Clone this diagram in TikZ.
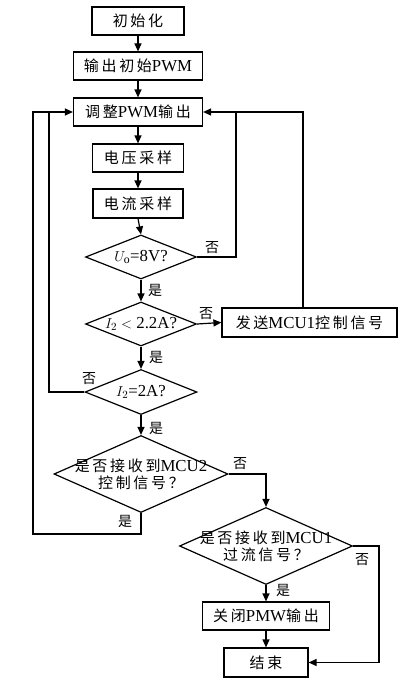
\documentclass[tikz,border=0pt]{standalone}
\usepackage{fontspec}
\setmainfont{Liberation Serif}[Scale=1.12]
\newfontfamily\cjk[LetterSpace=18]{Noto Sans CJK SC}
\usetikzlibrary{shapes.geometric,arrows.meta}
\tikzset{
  blk/.style={draw, line width=1.2pt, minimum height=28pt, inner sep=0pt},
  dec/.style={draw, diamond, line width=1.2pt, inner sep=0pt},
  yn/.style={font=\cjk\fontsize{14}{15}\selectfont, inner sep=0pt},
  flow/.style={line width=1.2pt, -{Triangle[length=8pt,width=7pt]}},
  link/.style={line width=1.2pt}
}
\begin{document}
\begin{tikzpicture}[x=1pt,y=-1pt,font=\cjk\fontsize{15}{17}\selectfont]
      \useasboundingbox (0,0) rectangle (410,685);
      % main column
      \node[blk, minimum width=92pt] (init) at (138,21) {初始化};
      \node[blk, minimum width=129pt] (pwm0) at (138,66) {输出初始{\rmfamily PWM}};
      \node[blk, minimum width=129pt] (adj) at (138,112) {调整{\rmfamily PWM}输出};
      \node[blk, minimum width=91pt] (vs) at (138,158) {电压采样};
      \node[blk, minimum width=90pt, minimum height=29pt] (cs) at (138,203.5) {电流采样};
      \node[dec, minimum width=111pt, minimum height=44pt,
        label={center:{\rmfamily $U_{\mathrm{o}}$=8V?}}] (d1) at (141,257) {};
      \node[dec, minimum width=111pt, minimum height=44pt,
        label={center:{\rmfamily $I_2<$ 2.2A?}}] (d2) at (141,324) {};
      \node[dec, minimum width=112pt, minimum height=45pt,
        label={center:{\rmfamily $I_2$=2A?}}] (d3) at (141,392) {};
      \node[dec, minimum width=174pt, minimum height=77pt,
        label={[align=center]center:是否接收到{\rmfamily MCU2}\\控制信号？}] (d4) at (141,474) {};
      \node[blk, minimum width=175pt, minimum height=29pt] (mcu) at (309.5,322.5) {发送{\rmfamily MCU1}控制信号};
      % right column
      \node[dec, minimum width=173pt, minimum height=77pt,
        label={[align=center]center:是否接收到{\rmfamily MCU1}\\过流信号？}] (d5) at (266,546) {};
      \node[blk, minimum width=127pt] (off) at (266,616) {关闭{\rmfamily PMW}输出};
      \node[blk, minimum width=84pt, minimum height=29pt] (fin) at (266,662.5) {结束};
      % turning points
      \coordinate (r1) at (236,0);
      \coordinate (r2) at (303,0);
      \coordinate (r3) at (379,0);
      \coordinate (l1) at (49,0);
      \coordinate (l2) at (33,0);
      \coordinate (b1) at (0,534);
      % yes / no
      \node[yn] (n1) at (212,248) {否};
      \node[yn] (y1) at (155,290) {是};
      \node[yn] (n2) at (206,314) {否};
      \node[yn] (y2) at (156,357) {是};
      \node[yn] (n3) at (89,379) {否};
      \node[yn] (y3) at (156,428) {是};
      \node[yn] (n4) at (240,464) {否};
      \node[yn] (y4) at (125,521) {是};
      \node[yn] (n5) at (362,560) {否};
      \node[yn] (y5) at (283,590) {是};
      % connectors
      \draw[flow] (init) -- (pwm0);
      \draw[flow] (pwm0) -- (adj);
      \draw[flow] (adj) -- (vs);
      \draw[flow] (vs) -- (cs);
      \draw[flow] (cs.south) -- (d1.north);
      \draw[flow] (d1.south) -- (d2.north);
      \draw[flow] (d2.south) -- (d3.north);
      \draw[flow] (d3.south) -- (d4.north);
      \draw[flow] (d2.east) -- (mcu.west);
      \draw[flow] (d1.east) -- (d1.east -| r1) |- (adj.east);
      \draw[link] (mcu.north -| r2) -- (adj.east -| r2) -- (adj.east -| r1);
      \draw[flow] (d3.west) -- (d3.west -| l1) |- (adj.west);
      \draw[link] (d4.south) -- (d4.south |- b1) -- (b1 -| l2) |- (adj.west -| l1);
      \draw[flow] (d4.east) -| (d5.north);
      \draw[flow] (d5.south) -- (off.north);
      \draw[flow] (off.south) -- (fin.north);
      \draw[flow] (d5.east) -- (d5.east -| r3) |- (fin.east);
    \end{tikzpicture}
\end{document}
